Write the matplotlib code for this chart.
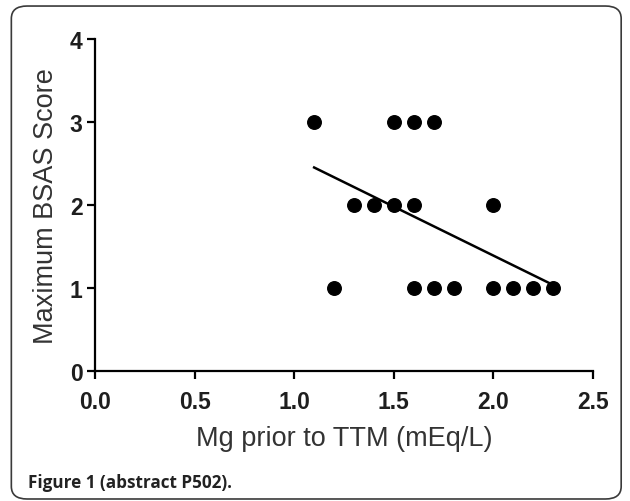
import numpy as np
import matplotlib
matplotlib.use("Agg")
import matplotlib.pyplot as plt
from matplotlib.patches import FancyBboxPatch

# Data (Mg prior to TTM vs max BSAS score)
mg = [1.1, 1.5, 1.6, 1.7,
      1.3, 1.4, 1.5, 1.6, 2.0,
      1.2, 1.6, 1.7, 1.8, 2.0, 2.1, 2.2, 2.3]
bsas = [3, 3, 3, 3,
        2, 2, 2, 2, 2,
        1, 1, 1, 1, 1, 1, 1, 1]
xticks = [0.0, 0.5, 1.0, 1.5, 2.0, 2.5]
yticks = [0, 1, 2, 3, 4]

plt.rcParams['font.family'] = ['Liberation Sans', 'DejaVu Sans']

fig = plt.figure(figsize=(6.3, 5.02), dpi=100)

# rounded frame around the figure
frame = FancyBboxPatch((0.018, 0.004), 0.968, 0.982,
                       boxstyle="round,pad=0,rounding_size=0.025",
                       transform=fig.transFigure, fill=False,
                       edgecolor='#3a3a3a', linewidth=1.2)
fig.patches.append(frame)

ax = fig.add_axes([0.1508, 0.259, 0.7905, 0.6614])
ax.scatter(mg, bsas, s=95, color='black', zorder=3, clip_on=False)

# linear regression line
slope, icpt = np.polyfit(mg, bsas, 1)
xl = np.array([min(mg), max(mg)])
ax.plot(xl, slope * xl + icpt, color='black', linewidth=1.8)

ax.set_xlim(0, 2.5)
ax.set_ylim(0, 4)
ax.set_xticks(xticks)
ax.set_yticks(yticks)
ax.set_xticklabels([f"{v:.1f}" for v in xticks])
ax.set_yticklabels([str(v) for v in yticks])
for s in ['top', 'right']:
    ax.spines[s].set_visible(False)
for s in ['left', 'bottom']:
    ax.spines[s].set_linewidth(1.6)
ax.tick_params(direction='out', length=6, width=1.6, labelsize=16.5)
ax.tick_params(axis='x', pad=8)
ax.tick_params(axis='y', pad=3)
for lab in ax.get_xticklabels() + ax.get_yticklabels():
    lab.set_fontweight('bold')
    lab.set_color('#1e1e1e')

ax.set_xlabel('Mg prior to TTM (mEq/L)', fontsize=19.5, color='#333333', labelpad=8)
ax.set_ylabel('Maximum BSAS Score', fontsize=19.5, color='#333333', labelpad=8)

fig.text(0.044, 0.028, 'Figure 1 (abstract P502).', fontsize=12.3,
         fontweight='bold', family=['Open Sans', 'DejaVu Sans'], color='#222222')

fig.savefig('out.png', dpi=100)
